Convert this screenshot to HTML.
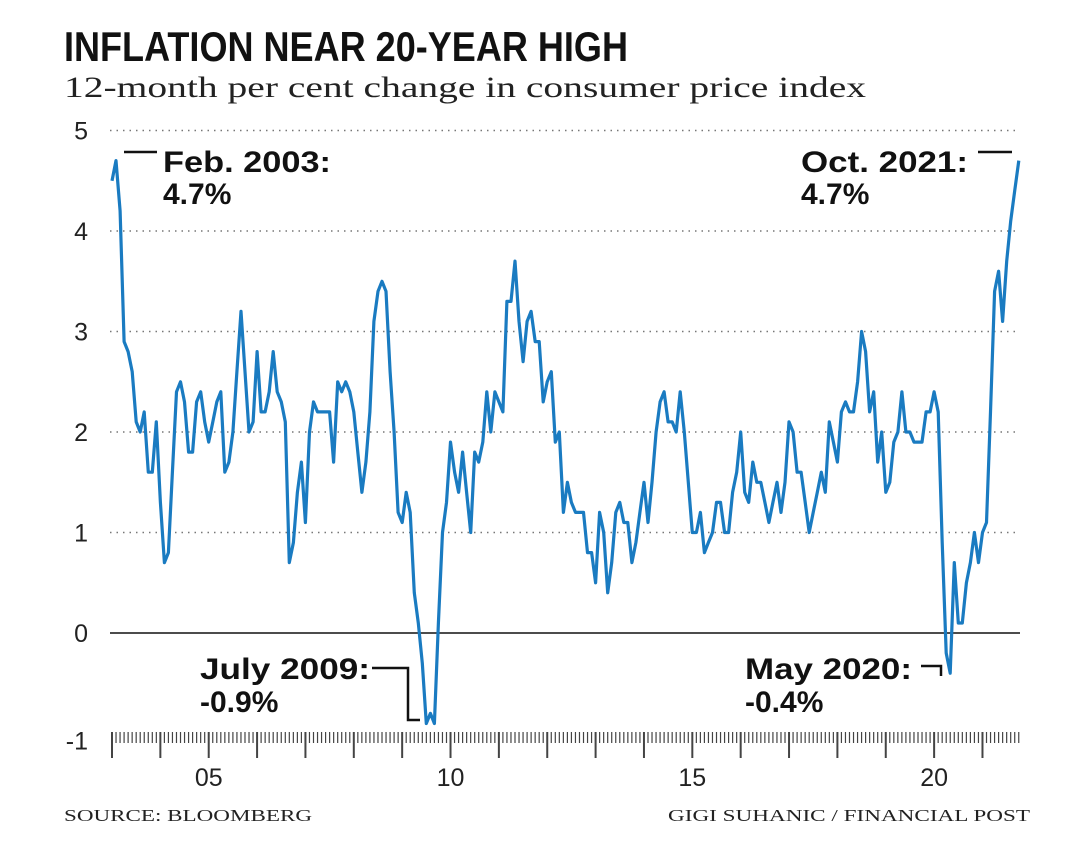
<!DOCTYPE html>
<html><head><meta charset="utf-8"><style>
body{margin:0;background:#fff;width:1080px;height:847px;overflow:hidden}
svg{display:block}
</style></head><body>
<svg id="chart" width="1080" height="847" viewBox="0 0 1080 847" xmlns="http://www.w3.org/2000/svg">
<text x="64" y="61" font-family="'Liberation Sans Narrow','Liberation Sans',sans-serif" font-weight="bold" font-size="42" textLength="564" lengthAdjust="spacingAndGlyphs" fill="#111">INFLATION NEAR 20-YEAR HIGH</text>
<text x="64" y="97" font-family="'Liberation Serif',serif" font-size="30" textLength="802" lengthAdjust="spacingAndGlyphs" fill="#222">12-month per cent change in consumer price index</text>
<g id="grid"></g>
<g id="yticks"></g>
<g id="xaxis"></g>
<path id="line" fill="none" stroke="#1a7bc1" stroke-width="3.2" stroke-linejoin="round"/>
<g font-family="'Liberation Sans',sans-serif" font-weight="bold" font-size="30" fill="#111">
<line x1="124" y1="152" x2="157" y2="152" stroke="#111" stroke-width="2.5"/>
<text x="163" y="172" textLength="168" lengthAdjust="spacingAndGlyphs">Feb. 2003:</text>
<text x="163" y="204">4.7%</text>
<line x1="978" y1="152" x2="1012" y2="152" stroke="#111" stroke-width="2.5"/>
<text x="801" y="172" textLength="167" lengthAdjust="spacingAndGlyphs">Oct. 2021:</text>
<text x="801" y="204">4.7%</text>
<polyline points="372,668 408,668 408,720 420,720" fill="none" stroke="#111" stroke-width="2.5"/>
<text x="200" y="679" textLength="170" lengthAdjust="spacingAndGlyphs">July 2009:</text>
<text x="200" y="712">-0.9%</text>
<polyline points="921,666 941,666 941,676" fill="none" stroke="#111" stroke-width="2.5"/>
<text x="745" y="679" textLength="167" lengthAdjust="spacingAndGlyphs">May 2020:</text>
<text x="745" y="712">-0.4%</text>
</g>
<text x="64" y="821" font-family="'Liberation Serif',serif" font-size="17" fill="#222" textLength="248" lengthAdjust="spacingAndGlyphs">SOURCE: BLOOMBERG</text>
<text x="1030" y="821" text-anchor="end" font-family="'Liberation Serif',serif" font-size="17" fill="#222" textLength="362" lengthAdjust="spacingAndGlyphs">GIGI SUHANIC / FINANCIAL POST</text>
</svg>
<script>
const startYear = 2003;
const yTicks = [-1, 0, 1, 2, 3, 4, 5];
const xTickYears = [2005, 2010, 2015, 2020];
const xTickLabels = ["05", "10", "15", "20"];
const cpi = [
4.5,4.7,4.2,2.9,2.8,2.6,2.1,2.0,2.2,1.6,1.6,2.1,
1.3,0.7,0.8,1.6,2.4,2.5,2.3,1.8,1.8,2.3,2.4,2.1,
1.9,2.1,2.3,2.4,1.6,1.7,2.0,2.6,3.2,2.6,2.0,2.1,
2.8,2.2,2.2,2.4,2.8,2.4,2.3,2.1,0.7,0.9,1.4,1.7,
1.1,2.0,2.3,2.2,2.2,2.2,2.2,1.7,2.5,2.4,2.5,2.4,
2.2,1.8,1.4,1.7,2.2,3.1,3.4,3.5,3.4,2.6,2.0,1.2,
1.1,1.4,1.2,0.4,0.1,-0.3,-0.9,-0.8,-0.9,0.1,1.0,1.3,
1.9,1.6,1.4,1.8,1.4,1.0,1.8,1.7,1.9,2.4,2.0,2.4,
2.3,2.2,3.3,3.3,3.7,3.1,2.7,3.1,3.2,2.9,2.9,2.3,
2.5,2.6,1.9,2.0,1.2,1.5,1.3,1.2,1.2,1.2,0.8,0.8,
0.5,1.2,1.0,0.4,0.7,1.2,1.3,1.1,1.1,0.7,0.9,1.2,
1.5,1.1,1.5,2.0,2.3,2.4,2.1,2.1,2.0,2.4,2.0,1.5,
1.0,1.0,1.2,0.8,0.9,1.0,1.3,1.3,1.0,1.0,1.4,1.6,
2.0,1.4,1.3,1.7,1.5,1.5,1.3,1.1,1.3,1.5,1.2,1.5,
2.1,2.0,1.6,1.6,1.3,1.0,1.2,1.4,1.6,1.4,2.1,1.9,
1.7,2.2,2.3,2.2,2.2,2.5,3.0,2.8,2.2,2.4,1.7,2.0,
1.4,1.5,1.9,2.0,2.4,2.0,2.0,1.9,1.9,1.9,2.2,2.2,
2.4,2.2,0.9,-0.2,-0.4,0.7,0.1,0.1,0.5,0.7,1.0,0.7,
1.0,1.1,2.2,3.4,3.6,3.1,3.7,4.1,4.4,4.7
];
const NS = "http://www.w3.org/2000/svg";
const X0 = 112, DX = 4.03, Y0 = 633, DY = 100.5, XL = 110, XR = 1020;
function xs(i){ return X0 + i*DX; }
function ys(v){ return Y0 - v*DY; }
function mk(tag, attrs, parent){ const e = document.createElementNS(NS, tag); for (const k in attrs) e.setAttribute(k, attrs[k]); parent.appendChild(e); return e; }
const grid = document.getElementById('grid');
const yt = document.getElementById('yticks');
yTicks.forEach(v => {
  if (v > 0) {
    const g = mk('line', {x1: XL, x2: XR, y1: ys(v), y2: ys(v), stroke: '#777', 'stroke-width': 1.5, 'stroke-dasharray': '1.5 5'}, grid);
    
    
  } else if (v === 0) {
    const z = mk('line', {x1: XL, x2: XR, y1: ys(0), y2: ys(0), stroke: '#333', 'stroke-width': 1.8}, grid);
    
    
  }
  const t = mk('text', {x: 88, y: ys(v) + (v < 0 ? 16 : 9), 'text-anchor': 'end', 'font-family': "'Liberation Sans',sans-serif", 'font-size': 25, fill: '#222'}, yt);
  
  
  t.textContent = v;
});
const xa = document.getElementById('xaxis');
for (let i = 0; i < cpi.length; i++) {
  const jan = i % 12 === 0;
  const tk = mk('line', {x1: xs(i), x2: xs(i), y1: 732, y2: jan ? 758 : 743, stroke: '#444', 'stroke-width': jan ? 2 : 1.2}, xa);
  
  
}
xTickYears.forEach((yr, k) => {
  const t = mk('text', {x: xs((yr - startYear)*12), y: 786, 'text-anchor': 'middle', 'font-family': "'Liberation Sans',sans-serif", 'font-size': 25, fill: '#222'}, xa);
  
  
  t.textContent = xTickLabels[k];
});
document.getElementById('line').setAttribute('d', cpi.map((v, i) => (i ? 'L' : 'M') + xs(i).toFixed(1) + ',' + ys(v).toFixed(1)).join(''));
</script>
</body></html>
